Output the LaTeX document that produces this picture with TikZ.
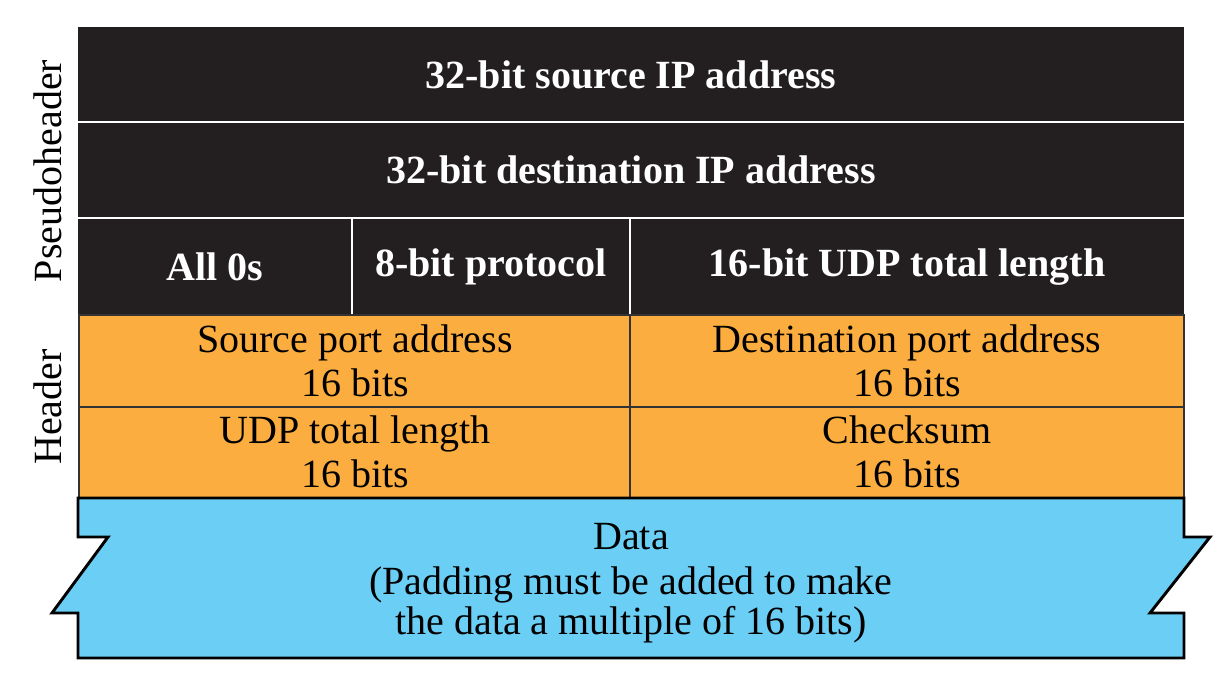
\documentclass[tikz,border=0pt]{standalone}
\usepackage{fontspec}
\setmainfont{Liberation Serif}
\definecolor{phblack}{HTML}{231F20}
\definecolor{hdorange}{HTML}{FBAD3F}
\definecolor{datablue}{HTML}{6BCEF5}
\definecolor{rulegray}{HTML}{333333}
\tikzset{
  celltext/.style={inner sep=0.75pt, align=center, font=\fontsize{30}{33}\selectfont},
  phtext/.style={celltext, text=white, font=\fontsize{30}{33}\selectfont\bfseries},
}

\begin{document}
\begin{tikzpicture}[x=0.75pt,y=0.75pt,yscale=-1,xscale=1]
        \useasboundingbox (0,0) rectangle (1230,678);
        %Shape: Rectangle [pseudoheader]
        \fill [phblack] (78,27) rectangle (1184,315);
        %Straight Lines [pseudoheader rows]
        \draw [white, line width=1.5pt] (78,122) -- (1184,122) (78,218) -- (1184,218);
        \draw [white, line width=1.5pt] (352,218) -- (352,315) (630,218) -- (630,315);
        %Shape: Rectangle [header]
        \draw [rulegray, fill=hdorange, line width=1.5pt] (79,315) rectangle (1184,498);
        \draw [rulegray, line width=1.5pt] (79,407) -- (1184,407) (630,315) -- (630,498);
        %Shape: Polygon [data]
        \draw [black, fill=datablue, line width=2.2pt, line join=miter] (78,498) -- (1184,498) -- (1184,537) -- (1210,537) -- (1150,613) -- (1184,613) -- (1184,658) -- (78,658) -- (78,613) -- (52,613) -- (108,537) -- (78,537) -- cycle ;
        % Text Node
        \node [phtext] (srcip) at (631,75) {32-bit source IP address};
        % Text Node
        \node [phtext] (dstip) at (631,170) {32-bit destination IP address};
        % Text Node
        \node [phtext] (zeros) at (215,267) {All 0s};
        % Text Node
        \node [phtext] (proto) at (491,267) {8-bit protocol};
        % Text Node
        \node [phtext] (udplen) at (907,267) {16-bit UDP total length};
        % Text Node
        \node [celltext] (srcport) at (355,361) {Source port address\\16 bits};
        % Text Node
        \node [celltext] (dstport) at (907,361) {Destination port address\\16 bits};
        % Text Node
        \node [celltext] (totlen) at (355,452) {UDP total length\\16 bits};
        % Text Node
        \node [celltext] (chksum) at (907,452) {Checksum\\16 bits};
        % Text Node
        \node [celltext] (data) at (631,537) {Data};
        % Text Node
        \node [celltext, font=\fontsize{30}{30}\selectfont] (padding) at (631,605) {(Padding must be added to make\\the data a multiple of 16 bits)};
        % Text Node
        \node [celltext, rotate=90] (pseudo) at (48,171) {Pseudoheader};
        % Text Node
        \node [celltext, rotate=90] (header) at (48,407) {Header};
    \end{tikzpicture}
\end{document}
